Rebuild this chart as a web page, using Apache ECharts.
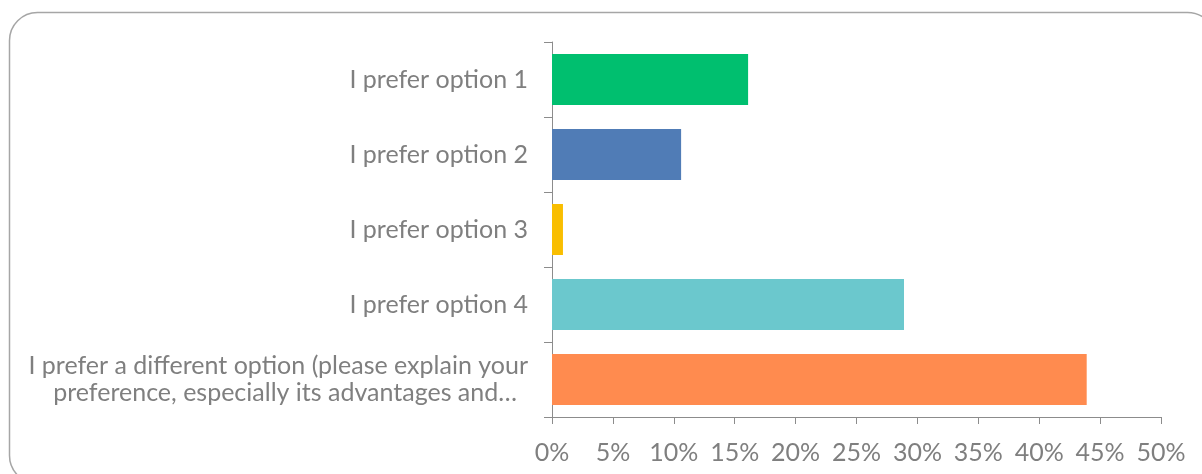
<!DOCTYPE html>
<html>
<head>
<meta charset="utf-8">
<style>
html,body{margin:0;padding:0;background:#fff;}
#chart{width:1202px;height:474px;}
</style>
<script src="https://cdn.jsdelivr.net/npm/echarts@6/dist/echarts.min.js"></script>
</head>
<body>
<div id="chart"></div>
<script>
const categories = [
  "I prefer option 1",
  "I prefer option 2",
  "I prefer option 3",
  "I prefer option 4",
  "I prefer a different option (please explain your\npreference, especially its advantages and…"
];
const values = [16.1, 10.6, 0.9, 28.9, 43.9];
const barColors = ["#00BF6F", "#507CB6", "#F9BE00", "#6BC8CD", "#FF8B4F"];
const tickFormat = "{value}%";

const chart = echarts.init(document.getElementById('chart'), null, {renderer: 'canvas'});
const textColor = '#7f7f7f';
const axisColor = '#8c8c8c';
const fs = 25;
chart.setOption({
  animation: false,
  textStyle: {fontFamily: 'Lato'},
  graphic: [{
    type: 'rect',
    shape: {x: 9.5, y: 12.5, width: 1206, height: 471, r: 28},
    style: {fill: 'none', stroke: '#a6a6a6', lineWidth: 1.5},
    silent: true, z: -1
  }],
  grid: {left: 552, top: 42, right: 41, bottom: 57, containLabel: false},
  xAxis: {
    type: 'value', min: 0, max: 50, interval: 5,
    axisLine: {show: true, lineStyle: {color: axisColor, width: 1}},
    axisTick: {show: true, length: 7, lineStyle: {color: axisColor}},
    splitLine: {show: false},
    axisLabel: {formatter: tickFormat, color: textColor, fontSize: fs, fontFamily: 'Lato', margin: 23}
  },
  yAxis: {
    type: 'category', data: categories, inverse: true,
    axisLine: {show: true, lineStyle: {color: axisColor, width: 1}},
    axisTick: {show: true, length: 8, alignWithLabel: false, lineStyle: {color: axisColor}},
    axisLabel: {
      color: textColor, fontSize: fs, fontFamily: 'Lato', margin: 24, align: 'right', lineHeight: 27,
      formatter: function (v) {
        const parts = v.split('\n');
        if (parts.length === 1) return v;
        return '{a|' + parts[0] + '}\n{b|' + parts[1] + '}';
      },
      rich: {
        a: {color: textColor, fontSize: fs, fontFamily: 'Lato', lineHeight: 27, align: 'right'},
        b: {color: textColor, fontSize: fs, fontFamily: 'Lato', lineHeight: 27, align: 'right', padding: [0, 11, 0, 0]}
      }
    }
  },
  series: [{
    type: 'bar',
    data: values.map((v, i) => ({value: v, itemStyle: {color: barColors[i]}})),
    barCategoryGap: '32%'
  }]
});
</script>
</body>
</html>
